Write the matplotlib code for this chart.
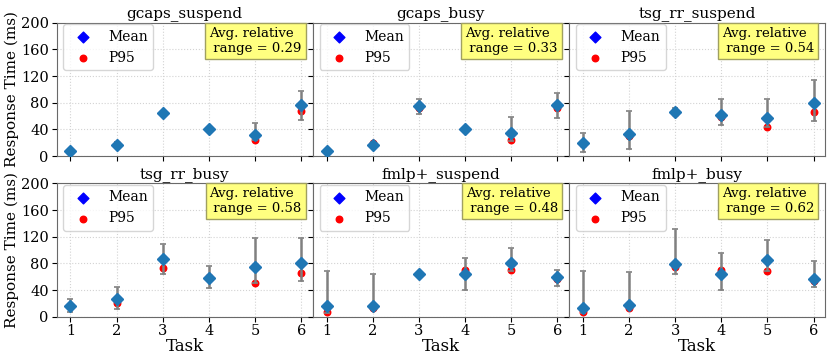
import numpy as np
import matplotlib
matplotlib.use('Agg')
import matplotlib.pyplot as plt

plt.rcParams['font.family'] = 'serif'

tasks = [1, 2, 3, 4, 5, 6]
titles = ['gcaps_suspend', 'gcaps_busy', 'tsg_rr_suspend',
          'tsg_rr_busy', 'fmlp+_suspend', 'fmlp+_busy']
avg_ranges = [0.29, 0.33, 0.54, 0.58, 0.48, 0.62]

# mean response time per task
means = [
    [8, 16, 65, 41, 32, 76],
    [8, 16.5, 75, 41, 35, 76],
    [20, 33, 65.5, 61, 57.5, 79],
    [15.5, 26, 86.5, 57.5, 75, 80],
    [16.5, 16, 64.5, 64.5, 81, 59],
    [12.5, 17.5, 79, 64, 84.5, 56],
]
# 95th percentile
p95s = [
    [8, 18, 65, 41, 24, 68],
    [8, 20, 71.5, 41, 23.5, 71.5],
    [17.5, 30, 65, 58, 44, 65.5],
    [16.5, 21, 72.5, 60, 50.5, 65],
    [7, 13.5, 64.5, 69.5, 69.5, 56],
    [7, 13.5, 74.5, 70.5, 69, 53.5],
]
# min / max of the runs (error bars)
mins = [
    [7, 14, 63, 40, 24, 54],
    [7, 12.5, 63.5, 40, 23, 57.5],
    [6.5, 11, 61.5, 46, 43, 53],
    [6.5, 11.5, 64.5, 42.5, 50, 53],
    [6, 13, 63.5, 39.5, 69, 46.5],
    [6, 13, 64.5, 40, 68.5, 44],
]
maxs = [
    [9, 21, 67, 42, 49, 98],
    [9, 21.5, 85, 42, 58, 94],
    [35, 67, 71.5, 86, 86, 113.5],
    [26, 44.5, 109.5, 75.5, 117.5, 117.5],
    [68.5, 64.5, 65.5, 88, 102.5, 70],
    [68.5, 67.5, 131.5, 95, 115, 83],
]

fig, axes = plt.subplots(2, 3, figsize=(8.31, 3.6), dpi=100, sharey=True)
fig.subplots_adjust(left=0.068, right=0.993, top=0.937, bottom=0.12,
                    wspace=0, hspace=0.205)

for i, ax in enumerate(axes.flat):
    m = np.array(means[i])
    lo = np.array(mins[i])
    hi = np.array(maxs[i])
    ax.scatter(tasks, m, color='blue', marker='D', s=30, label='Mean', zorder=2)
    ax.scatter(tasks, p95s[i], color='red', marker='o', s=22, label='P95', zorder=3)
    ax.errorbar(tasks, m, yerr=[m - lo, hi - m], fmt='D', color='tab:blue',
                ms=6, ecolor='gray', elinewidth=1.8, capsize=2.5, capthick=1.2,
                zorder=4)

    ax.set_title(titles[i], fontsize=11, pad=4)
    ax.set_xlim(0.7, 6.25)
    ax.set_ylim(0, 200)
    ax.set_xticks(tasks)
    ax.set_yticks([0, 40, 80, 120, 160, 200])
    ax.tick_params(labelsize=10.5, colors='black', pad=2)
    ax.grid(True, linestyle=':', color='lightgray', linewidth=0.8)
    for sp in ax.spines.values():
        sp.set_color('dimgray')

    ax.legend(loc='upper left', fontsize=10, borderaxespad=0,
              bbox_to_anchor=(0.027, 0.99))
    ax.text(0.957, 0.97, 'Avg. relative\n range = {:.2f}'.format(avg_ranges[i]),
            transform=ax.transAxes, ha='right', va='top', multialignment='left',
            fontsize=9.5,
            bbox=dict(boxstyle='square,pad=0.3', facecolor='#ffff80',
                      edgecolor='#a0a060'))

    if i >= 3:
        ax.set_xlabel('Task', fontsize=12, labelpad=0)
    else:
        ax.tick_params(axis='x', labelbottom=False)
    if i % 3 == 0:
        ax.set_ylabel('Response Time (ms)', fontsize=11, labelpad=1)

plt.savefig('out.png')
